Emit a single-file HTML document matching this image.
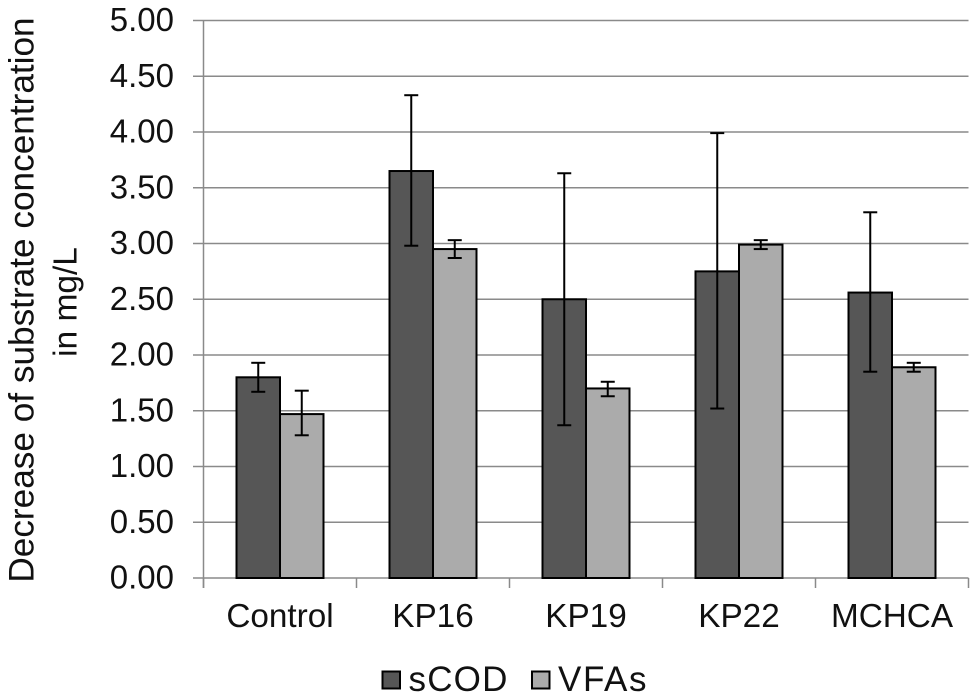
<!DOCTYPE html>
<html>
<head>
<meta charset="utf-8">
<title>Decrease of substrate concentration</title>
<style>
html,body{margin:0;padding:0;background:#fff;}
svg{display:block;}
text{font-family:"Liberation Sans",sans-serif;fill:#111;}
</style>
</head>
<body>
<svg id="chart" width="975" height="698" viewBox="0 0 975 698" xmlns="http://www.w3.org/2000/svg">
<g id="grid"></g>
<g id="axes"></g>
<g id="bars"></g>
<g id="errs"></g>
<g id="labels"></g>
<g>
<text transform="translate(33.5,300) rotate(-90)" text-anchor="middle" font-size="35.2">Decrease of substrate concentration</text>
<text transform="translate(76.7,302) rotate(-90)" text-anchor="middle" font-size="33.5">in mg/L</text>
</g>
<g>
<rect x="382.5" y="671.5" width="17.5" height="17" fill="#565656" stroke="#000" stroke-width="2"/>
<text x="408.5" y="691" font-size="35" letter-spacing="1.2">sCOD</text>
<rect x="532" y="671.5" width="17.5" height="17" fill="#ababab" stroke="#000" stroke-width="2"/>
<text x="558" y="691" font-size="35" letter-spacing="1.6">VFAs</text>
</g>
</svg>
<script>
const categories = ["Control", "KP16", "KP19", "KP22", "MCHCA"];
const scod = [1.80, 3.65, 2.50, 2.75, 2.56];
const vfas = [1.47, 2.95, 1.70, 2.99, 1.89];
const scodLow = [1.67, 2.98, 1.37, 1.52, 1.85];
const scodHigh = [1.93, 4.33, 3.63, 3.99, 3.28];
const vfasLow = [1.28, 2.87, 1.63, 2.95, 1.85];
const vfasHigh = [1.68, 3.03, 1.76, 3.03, 1.93];
const yTicks = [0, 0.5, 1, 1.5, 2, 2.5, 3, 3.5, 4, 4.5, 5];

const NS = 'http://www.w3.org/2000/svg';
const plotLeft = 203.5, plotRight = 968.5, plotTop = 20.5, plotBottom = 578;
const yMax = 5;
function y(v) { return plotBottom - (v / yMax) * (plotBottom - plotTop); }
function band(i) { return plotLeft + i * (plotRight - plotLeft) / categories.length; }
const bandW = (plotRight - plotLeft) / categories.length;
const barW = 43.5;

function mk(parent, tag, attrs) {
  const el = document.createElementNS(NS, tag);
  for (const k in attrs) el.setAttribute(k, attrs[k]);
  parent.appendChild(el);
  return el;
}
const grid = document.getElementById('grid');
const axes = document.getElementById('axes');
const bars = document.getElementById('bars');
const errs = document.getElementById('errs');
const labels = document.getElementById('labels');

yTicks.forEach(function (t) {
  const line = mk(grid, 'line', { x1: 193, x2: plotRight, y1: y(t), y2: y(t), stroke: '#8a8a8a', 'stroke-width': 1.5 });
  
  
  const lab = mk(labels, 'text', { x: 174, y: y(t) + 10.5, 'text-anchor': 'end', 'font-size': 33 });
  lab.textContent = t.toFixed(2);
  
  
});

const yAxis = mk(axes, 'line', { x1: plotLeft, x2: plotLeft, y1: plotTop, y2: plotBottom + 10, stroke: '#8a8a8a', 'stroke-width': 1.5 });


for (let i = 0; i <= categories.length; i++) {
  const tick = mk(axes, 'line', { x1: band(i), x2: band(i), y1: plotBottom, y2: plotBottom + 10, stroke: '#8a8a8a', 'stroke-width': 1.5 });
  
  
}

function errorBar(cx, lo, hi) {
  const stem = mk(errs, 'line', { x1: cx, x2: cx, y1: y(lo), y2: y(hi), stroke: '#000', 'stroke-width': 2 });
  
  
  [lo, hi].forEach(function (v) {
    const cap = mk(errs, 'line', { x1: cx - 7, x2: cx + 7, y1: y(v), y2: y(v), stroke: '#000', 'stroke-width': 2 });
    
    
  });
}

categories.forEach(function (c, i) {
  const center = band(i) + bandW / 2;
  const a = mk(bars, 'rect', { x: center - barW, y: y(scod[i]), width: barW, height: plotBottom - y(scod[i]), fill: '#565656', stroke: '#000', 'stroke-width': 2 });
  
  
  const b = mk(bars, 'rect', { x: center, y: y(vfas[i]), width: barW, height: plotBottom - y(vfas[i]), fill: '#ababab', stroke: '#000', 'stroke-width': 2 });
  
  
  errorBar(center - barW / 2, scodLow[i], scodHigh[i]);
  errorBar(center + barW / 2, vfasLow[i], vfasHigh[i]);
  const lab = mk(labels, 'text', { x: center, y: 627, 'text-anchor': 'middle', 'font-size': 33.3 });
  lab.textContent = c;
  
  
});
</script>
</body>
</html>
